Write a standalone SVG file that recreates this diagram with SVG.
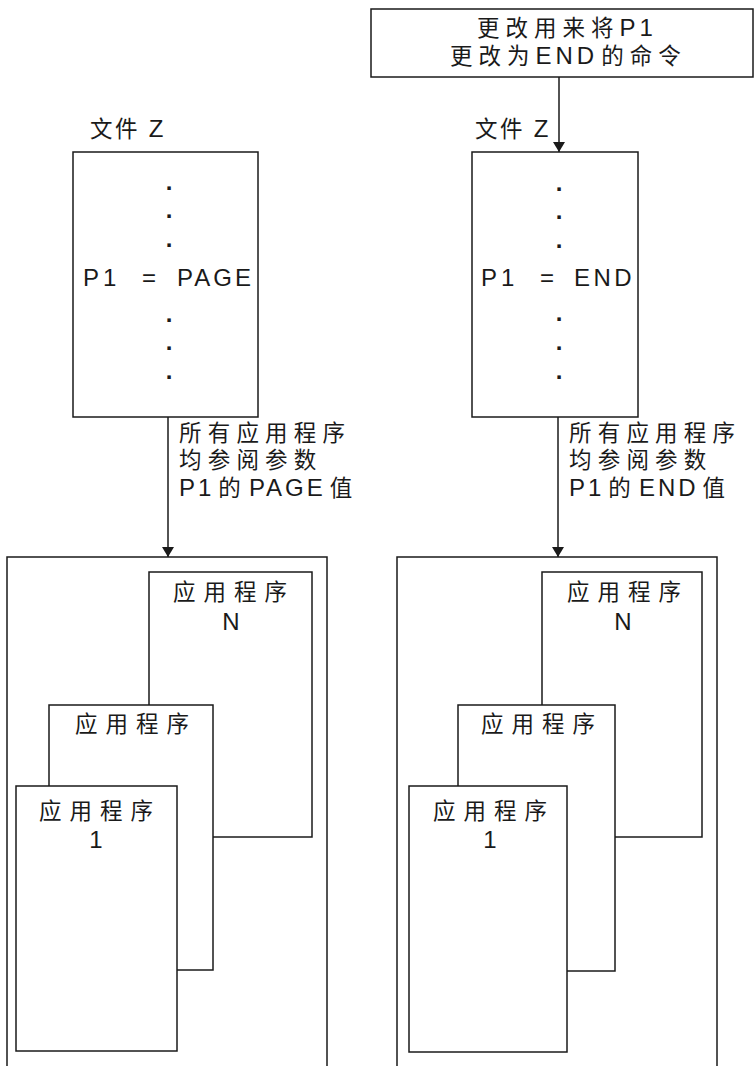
<svg xmlns="http://www.w3.org/2000/svg" width="755" height="1066" viewBox="0 0 755 1066">
<style>
.box{fill:#fff;stroke:#1a1a1a;stroke-width:1.5}
.t{font-family:"Liberation Sans","Noto Sans CJK SC",sans-serif;font-size:22.5px;fill:#1a1a1a;letter-spacing:6px}
.L{font-size:24px;letter-spacing:4px}
.a{letter-spacing:8px}
.c{text-anchor:middle;letter-spacing:0;font-size:24px}
.dot{font-family:"Liberation Sans",sans-serif;font-size:24px;fill:#1a1a1a;text-anchor:middle;font-weight:bold}
.conn{stroke:#1a1a1a;stroke-width:1.5;fill:none}
</style>
<defs>
<marker id="arr" viewBox="0 0 10 12" refX="10" refY="6" markerWidth="10" markerHeight="12" markerUnits="userSpaceOnUse" orient="auto">
<path d="M0,0 L10,6 L0,12 Z" fill="#1a1a1a"/>
</marker>
</defs>

<g id="cmd">
<rect class="box" x="371" y="9" width="382" height="68"/>
<text class="t" x="477" y="36">更改用来将<tspan class="L">P1</tspan></text>
<text class="t" x="450" y="64">更改为<tspan class="L">END</tspan><tspan dx="3">的命令</tspan></text>
</g>

<g id="fileL">
<text class="t" x="90" y="137" style="letter-spacing:2.5px">文件 <tspan class="L">Z</tspan></text>
<rect class="box" x="73" y="152" width="185" height="265"/>
<text class="dot" x="169" y="190">.</text>
<text class="dot" x="169" y="218">.</text>
<text class="dot" x="169" y="247">.</text>
<text class="t L" y="286"><tspan x="83">P1</tspan><tspan x="142">=</tspan><tspan x="177" style="letter-spacing:3px">PAGE</tspan></text>
<text class="dot" x="169" y="322">.</text>
<text class="dot" x="169" y="350">.</text>
<text class="dot" x="169" y="379">.</text>
</g>

<g id="fileR">
<text class="t" x="475" y="137" style="letter-spacing:2.5px">文件 <tspan class="L">Z</tspan></text>
<rect class="box" x="472" y="152" width="166" height="265"/>
<text class="dot" x="559" y="191">.</text>
<text class="dot" x="559" y="219">.</text>
<text class="dot" x="559" y="248">.</text>
<text class="t L" y="286"><tspan x="481">P1</tspan><tspan x="540">=</tspan><tspan x="574" style="letter-spacing:3.5px">END</tspan></text>
<text class="dot" x="559" y="321">.</text>
<text class="dot" x="559" y="350">.</text>
<text class="dot" x="559" y="379">.</text>
</g>

<g id="labelL">
<text class="t" x="179" y="441" style="letter-spacing:6.2px">所有应用程序</text>
<text class="t" x="179" y="468" style="letter-spacing:6.2px">均参阅参数</text>
<text class="t" x="179" y="496" style="letter-spacing:8px"><tspan class="L" style="letter-spacing:3px">P1</tspan><tspan dx="4">的</tspan><tspan class="L" style="letter-spacing:3px">PAGE</tspan><tspan dx="4">值</tspan></text>
</g>
<g id="labelR">
<text class="t" x="569" y="441" style="letter-spacing:6.2px">所有应用程序</text>
<text class="t" x="569" y="468" style="letter-spacing:6.2px">均参阅参数</text>
<text class="t" x="569" y="496" style="letter-spacing:8px"><tspan class="L" style="letter-spacing:3px">P1</tspan><tspan dx="4">的</tspan><tspan class="L" style="letter-spacing:3px">END</tspan><tspan dx="4">值</tspan></text>
</g>

<g id="groupL">
<rect class="box" x="7" y="557" width="320" height="520"/>
<g id="appLN">
<rect class="box" x="149" y="572" width="163" height="265"/>
<text class="t a" x="173" y="600">应用程序</text>
<text class="t c" x="231" y="630">N</text>
</g>
<g id="appLM">
<rect class="box" x="49" y="705" width="164" height="265"/>
<text class="t a" x="75" y="732">应用程序</text>
</g>
<g id="appL1">
<rect class="box" x="16" y="786" width="161" height="265"/>
<text class="t a" x="39" y="819">应用程序</text>
<text class="t c" x="96" y="848">1</text>
</g>
</g>

<g id="groupR">
<rect class="box" x="397" y="557" width="320" height="520"/>
<g id="appRN">
<rect class="box" x="542" y="572" width="160" height="265"/>
<text class="t a" x="567" y="600">应用程序</text>
<text class="t c" x="623" y="630">N</text>
</g>
<g id="appRM">
<rect class="box" x="458" y="705" width="157" height="266"/>
<text class="t a" x="481" y="732">应用程序</text>
</g>
<g id="appR1">
<rect class="box" x="409" y="786" width="158" height="266"/>
<text class="t a" x="433" y="819">应用程序</text>
<text class="t c" x="490" y="848">1</text>
</g>
</g>

<g id="connectors">
<line class="conn" x1="559" y1="77" x2="559" y2="152" marker-end="url(#arr)"/>
<line class="conn" x1="168" y1="417" x2="168" y2="557" marker-end="url(#arr)"/>
<line class="conn" x1="558" y1="417" x2="558" y2="557" marker-end="url(#arr)"/>
</g>
</svg>
